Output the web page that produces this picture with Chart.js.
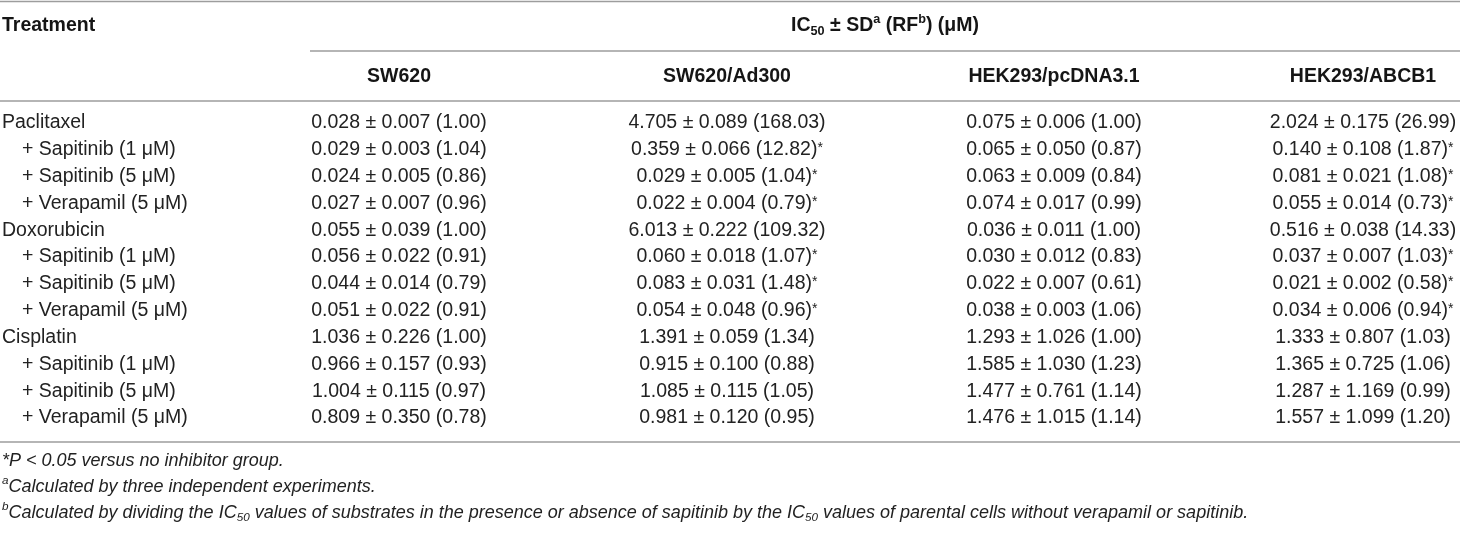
<!DOCTYPE html>
<html>
<head>
<meta charset="utf-8">
<title>IC50 table</title>
<script src="https://cdn.jsdelivr.net/npm/chart.js@4.4.1/dist/chart.umd.min.js"></script>
<style>
  html, body { margin: 0; padding: 0; background: #fff; }
  #wrap { position: relative; width: 1460px; height: 535px; }
</style>
</head>
<body>
<div id="wrap"><canvas id="table"></canvas></div>
<script>
// rows and columns of the table
const treatments = [
  'Paclitaxel', '+ Sapitinib (1 μM)', '+ Sapitinib (5 μM)', '+ Verapamil (5 μM)',
  'Doxorubicin', '+ Sapitinib (1 μM)', '+ Sapitinib (5 μM)', '+ Verapamil (5 μM)',
  'Cisplatin', '+ Sapitinib (1 μM)', '+ Sapitinib (5 μM)', '+ Verapamil (5 μM)',
];
const cellLines = ['SW620', 'SW620/Ad300', 'HEK293/pcDNA3.1', 'HEK293/ABCB1'];

// IC50, SD and resistance fold per cell line
const sw620Ic50 = [0.028, 0.029, 0.024, 0.027, 0.055, 0.056, 0.044, 0.051, 1.036, 0.966, 1.004, 0.809];
const sw620Sd   = [0.007, 0.003, 0.005, 0.007, 0.039, 0.022, 0.014, 0.022, 0.226, 0.157, 0.115, 0.350];
const sw620Rf   = [1.00, 1.04, 0.86, 0.96, 1.00, 0.91, 0.79, 0.91, 1.00, 0.93, 0.97, 0.78];

const ad300Ic50 = [4.705, 0.359, 0.029, 0.022, 6.013, 0.060, 0.083, 0.054, 1.391, 0.915, 1.085, 0.981];
const ad300Sd   = [0.089, 0.066, 0.005, 0.004, 0.222, 0.018, 0.031, 0.048, 0.059, 0.100, 0.115, 0.120];
const ad300Rf   = [168.03, 12.82, 1.04, 0.79, 109.32, 1.07, 1.48, 0.96, 1.34, 0.88, 1.05, 0.95];

const pcdnaIc50 = [0.075, 0.065, 0.063, 0.074, 0.036, 0.030, 0.022, 0.038, 1.293, 1.585, 1.477, 1.476];
const pcdnaSd   = [0.006, 0.050, 0.009, 0.017, 0.011, 0.012, 0.007, 0.003, 1.026, 1.030, 0.761, 1.015];
const pcdnaRf   = [1.00, 0.87, 0.84, 0.99, 1.00, 0.83, 0.61, 1.06, 1.00, 1.23, 1.14, 1.14];

const abcb1Ic50 = [2.024, 0.140, 0.081, 0.055, 0.516, 0.037, 0.021, 0.034, 1.333, 1.365, 1.287, 1.557];
const abcb1Sd   = [0.175, 0.108, 0.021, 0.014, 0.038, 0.007, 0.002, 0.006, 0.807, 0.725, 1.169, 1.099];
const abcb1Rf   = [26.99, 1.87, 1.08, 0.73, 14.33, 1.03, 0.58, 0.94, 1.03, 1.06, 0.99, 1.20];

// rows marked * (P < 0.05 versus no inhibitor group)
const sw620Sig = [];
const ad300Sig = [1, 2, 3, 5, 6, 7];
const pcdnaSig = [];
const abcb1Sig = [1, 2, 3, 5, 6, 7];

// layout (pixels)
const FAMILY = '"Liberation Sans", Arial, Helvetica, sans-serif';
const SIZE = 19.5;
const colX = [2, 399, 727, 1054, 1363];
const indent = 20;
const rules = { top: 1.5, span: 51, spanFrom: 310, head: 101, bottom: 442 };
const headY = [26, 77];
const noteY = [461, 487, 513];

function drawRich(ctx, parts, x, y, opt) {
  const size = opt.size || SIZE;
  const font = (s) => `${opt.italic ? 'italic ' : ''}${opt.bold ? 'bold ' : ''}${s}px ${FAMILY}`;
  const small = (k) => (k === 'sub' || k === 'sup' ? size * 0.65 : k === 'star' ? size * 0.72 : size);
  const widths = parts.map(([t, k]) => {
    ctx.font = font(small(k));
    return ctx.measureText(t).width;
  });
  const total = widths.reduce((a, b) => a + b, 0);
  let cx = opt.align === 'center' ? x - total / 2 : x;
  ctx.textAlign = 'left';
  ctx.textBaseline = 'middle';
  parts.forEach(([t, k], i) => {
    ctx.font = font(small(k));
    let dy = 0;
    if (k === 'sup') dy = -size * 0.32;
    if (k === 'sub') dy = size * 0.28;
    if (k === 'star') dy = -size * 0.08;
    ctx.fillText(t, cx, y + dy);
    cx += widths[i];
  });
}

function cellParts(ic50, sd, rf, sig) {
  return ic50.map((v, i) => {
    const p = [[`${v.toFixed(3)} ± ${sd[i].toFixed(3)} (${rf[i].toFixed(2)})`, '']];
    if (sig.includes(i)) p.push(['*', 'star']);
    return p;
  });
}

const columns = [
  cellParts(sw620Ic50, sw620Sd, sw620Rf, sw620Sig),
  cellParts(ad300Ic50, ad300Sd, ad300Rf, ad300Sig),
  cellParts(pcdnaIc50, pcdnaSd, pcdnaRf, pcdnaSig),
  cellParts(abcb1Ic50, abcb1Sd, abcb1Rf, abcb1Sig),
];

const datasets = [
  {
    label: 'Treatment',
    data: treatments.map((t) => ({ x: colX[0], y: t })),
    texts: treatments.map((t) => [[t, '']]),
    align: 'left',
  },
  ...cellLines.map((name, c) => ({
    label: name,
    data: treatments.map((t) => ({ x: colX[c + 1], y: t })),
    texts: columns[c],
    align: 'center',
  })),
];

const tablePlugin = {
  id: 'tableText',
  afterDraw(chart) {
    const ctx = chart.ctx;
    const w = chart.width;
    ctx.save();

    // rules
    ctx.strokeStyle = '#9d9d9d';
    ctx.lineWidth = 1.6;
    const hline = (y, x0) => {
      ctx.beginPath();
      ctx.moveTo(x0, y);
      ctx.lineTo(w, y);
      ctx.stroke();
    };
    hline(rules.top, 0);
    hline(rules.span, rules.spanFrom);
    hline(rules.head, 0);
    hline(rules.bottom, 0);

    // header rows
    ctx.fillStyle = '#151515';
    const xs = chart.scales.x;
    drawRich(ctx, [['Treatment', '']], xs.getPixelForValue(colX[0]), headY[0], { bold: true });
    drawRich(ctx, [['IC', ''], ['50', 'sub'], [' ± SD', ''], ['a', 'sup'], [' (RF', ''], ['b', 'sup'], [') (μM)', '']],
      (rules.spanFrom + w) / 2, headY[0], { bold: true, align: 'center' });
    cellLines.forEach((name, c) => {
      drawRich(ctx, [[name, '']], xs.getPixelForValue(colX[c + 1]), headY[1], { bold: true, align: 'center' });
    });

    // body cells, placed on the chart's own scales
    ctx.fillStyle = '#222';
    chart.data.datasets.forEach((ds, i) => {
      const meta = chart.getDatasetMeta(i);
      meta.data.forEach((pt, j) => {
        const parts = ds.texts[j];
        let x = pt.x;
        if (ds.align === 'left' && parts[0][0].startsWith('+')) x += indent;
        drawRich(ctx, parts, x, pt.y, { align: ds.align });
      });
    });

    // footnotes
    ctx.fillStyle = '#222';
    const fn = { italic: true, size: 18 };
    drawRich(ctx, [['*P < 0.05 versus no inhibitor group.', '']], 2, noteY[0], fn);
    drawRich(ctx, [['a', 'sup'], ['Calculated by three independent experiments.', '']], 2, noteY[1], fn);
    drawRich(ctx, [
      ['b', 'sup'], ['Calculated by dividing the IC', ''], ['50', 'sub'],
      [' values of substrates in the presence or absence of sapitinib by the IC', ''], ['50', 'sub'],
      [' values of parental cells without verapamil or sapitinib.', ''],
    ], 2, noteY[2], fn);

    ctx.restore();
  },
};

new Chart(document.getElementById('table'), {
  type: 'scatter',
  data: { labels: treatments, datasets },
  options: {
    responsive: true,
    maintainAspectRatio: false,
    animation: false,
    events: [],
    layout: { padding: { top: 123, bottom: 117, left: 0, right: 0 } },
    elements: { point: { radius: 0, hoverRadius: 0 } },
    plugins: { legend: { display: false }, tooltip: { enabled: false } },
    scales: {
      x: { type: 'linear', min: 0, max: 1460, display: false },
      y: { type: 'category', labels: treatments, offset: false, display: false },
    },
  },
  plugins: [tablePlugin],
});
</script>
</body>
</html>
